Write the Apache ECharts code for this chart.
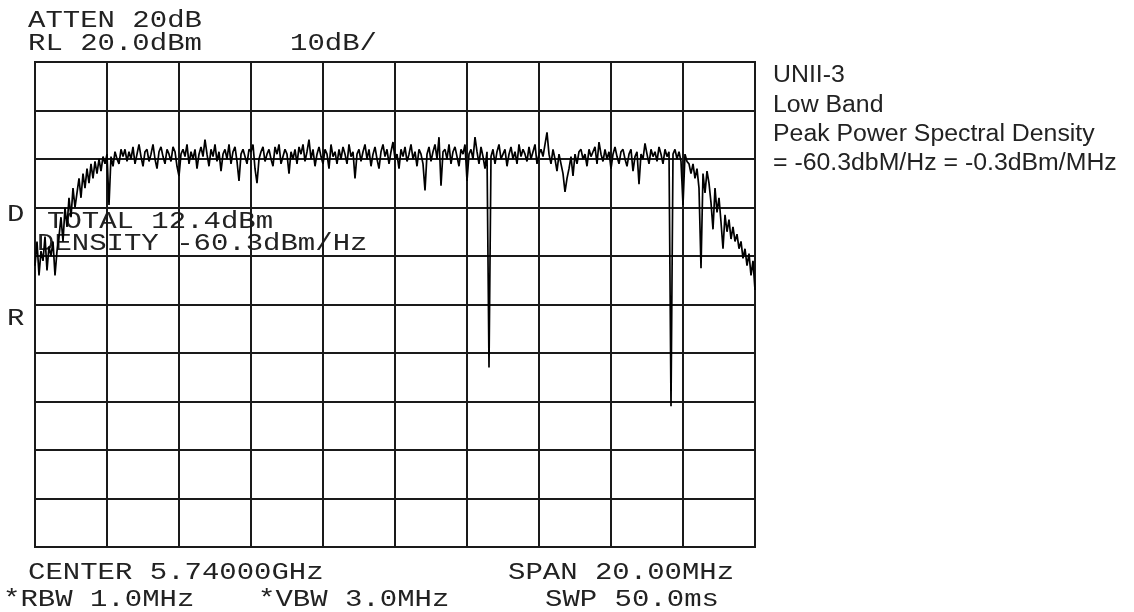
<!DOCTYPE html>
<html>
<head>
<meta charset="utf-8">
<script src="https://cdn.jsdelivr.net/npm/echarts@6/dist/echarts.min.js"></script>
<style>
  html, body { margin: 0; padding: 0; background: #fff; }
  #chart { width: 1134px; height: 612px; }
</style>
</head>
<body>
<div id="chart"></div>
<script>
// Sweep settings: 5.730–5.750 GHz, reference level +20 dBm, 10 dB/div
const sweepStartMHz = 5730;
const sweepStopMHz = 5750;
const freqDivMHz = 2;
const refLevelDbm = 20;
const bottomLevelDbm = -80;
const dbPerDiv = 10;

// Measured trace, dBm, equally spaced sweep points across the span
const traceDbm = [
  -22, -17, -24, -19, -21, -16, -23, -18, -20, -17, -24, -19, -16,
  -12, -17, -10, -14, -8, -12, -6, -10, -7, -4,
  -8, -3, -6, -2, -5, -1, -4, -0.5, -3, 0, -2.5, 0.5,
  -1, 1, -9.5, 0.5, -1.5, 1.5, 0, -1, 2, 0.5,
  2, -0.5, 1.5, 0, 2.5, -1, 1, 3, 0.5, -1.5,
  1.5, 2, -0.5, 1, 3, 0, -2, 1.5, 2.5, 0.5,
  -1, 2, 1, -0.5, 2.5, 1.5, -1.5, -3.5, 1, 2,
  0.5, 3, -1, 1.5, 0, 2, -2, 1, 2.5, 0.5,
  4, 1, -1.5, 2, 0.5, 3, -0.5, 1.5, -2.5, 1,
  2, 0, 3, -1, 1.5, 2.5, -0.5, -4.5, 1, 2,
  0.5, -1, 2, 1.5, 3, -2, -5, 0, 1.5, 2.5,
  -0.5, 1, 2, 0, -1.5, 2.5, 1, 3, -1, 0.5,
  2, 1, -3, 1.5, 0, 2, -1, 2.5, 1, 3,
  -0.5, 1.5, 4, 0, 2, -1.5, 1, 2.5, 0.5, -1,
  2, 1, -2, 3, 0.5, 1.5, -1, 2, 0, 2.5,
  1, -1, 3, 0.5, 1.5, -4, 1, 2, -0.5, 1.5,
  3, 0, 2, -1.5, 1, 2.5, 0, -2, 1.5, 3,
  0.5, 2, -1, 1.5, 3.5, 0, 1, -2, 2, 0.5,
  2.5, -0.5, 1, 3, 0, 1.5, -1.5, 2, 1, -1,
  -6.5, 1, 2.5, -0.5, 1.5, 3, 0, 4.5, -5.5, 1.5,
  2, 0, 3, -1, 1.5, 2.5, 0.5, -1.5, 2, 1,
  3, -4.5, 1, 2, 0, 4.5, 1.5, -1, 2.5, 0.5,
  -2, 1.5, -43, 0.5, 2, -1, 1.5, 3, 0, 1,
  2, -1.5, 1, 2.5, 0, 1.5, -1, 3, 0.5, 2,
  1, -0.5, 2.5, 0, 1.5, 3, -1, 1, 2, 0.5,
  3, 5.5, 1, -1, 2, 0, -2.5, 1, -1, -3,
  -6.8, -4, -2, 0.5, -3.5, 1, -1, 1.5, 2, 0,
  1, -1.5, 2, 0.5, 1.5, 2.5, -1, 3.5, 1, -0.5,
  2, 0, 1.5, -2, 1, 2.5, 0.5, -1, 1.5, 2,
  0, -1.5, 1, 2, -2.5, 0.5, 1.5, -5.2, 1, 0,
  3.2, 1, -1, 2, 0.5, 1.5, -0.5, 2.5, 1, -1,
  2, 0.5, 1.5, -51, 1, 2, 0, 1.5, -0.5, -9.5,
  1, -0.5,
  -1, -3, -1, -4, -2, -6, -22.5, -3, -7, -2.5,
  -5, -9, -14.5, -6, -11, -8, -13, -18.5, -11.5, -15,
  -12.5, -16.5, -14, -17, -15.5, -18.5, -17, -20.5, -18.5, -22,
  -19.5, -24, -21, -27
];

// Analyzer screen annotations
const headerText = ['ATTEN 20dB', 'RL 20.0dBm', '10dB/'];
const markerText = ['D', 'R'];
const measureText = ['TOTAL 12.4dBm', 'DENSITY -60.3dBm/Hz'];
const footerText = ['CENTER 5.74000GHz', 'SPAN 20.00MHz', '*RBW 1.0MHz', '*VBW 3.0MHz', 'SWP 50.0ms'];
const noteText = ['UNII-3', 'Low Band', 'Peak Power Spectral Density', '= -60.3dbM/Hz = -0.3dBm/MHz'];

const stepMHz = (sweepStopMHz - sweepStartMHz) / (traceDbm.length - 1);
const traceData = traceDbm.map((v, i) => [sweepStartMHz + i * stepMHz, v]);

const INK = '#1a1a1a';
const MONO_SIZE = 23;
const MONO_SCALE = 1.26;

// Screen-style monospaced label, widened to the analyzer's character pitch
function monoLabel(text, x, y) {
  return {
    type: 'text', x: x, y: y, scaleX: MONO_SCALE, silent: true,
    style: {
      text: text, fill: '#222',
      font: 'normal ' + MONO_SIZE + 'px "Liberation Mono"',
      textAlign: 'left', textVerticalAlign: 'middle', verticalAlign: 'middle'
    }
  };
}
// Side note next to the screen
function noteLabel(text, x, y) {
  return {
    type: 'text', x: x, y: y, scaleX: 1.08, silent: true,
    style: {
      text: text, fill: '#222',
      font: 'normal 23px "Liberation Sans"',
      textAlign: 'left', textVerticalAlign: 'middle', verticalAlign: 'middle'
    }
  };
}

const graphics = [
  monoLabel(headerText[0], 28, 21),
  monoLabel(headerText[1], 28, 44),
  monoLabel(headerText[2], 290, 44),
  monoLabel(markerText[0], 7, 215),
  monoLabel(markerText[1], 7, 319),
  monoLabel(measureText[0], 47, 222),
  monoLabel(measureText[1], 37, 244),
  monoLabel(footerText[0], 28, 573),
  monoLabel(footerText[1], 508, 573),
  monoLabel(footerText[2], 3, 600),
  monoLabel(footerText[3], 258, 600),
  monoLabel(footerText[4], 545, 600),
  noteLabel(noteText[0], 773, 76),
  noteLabel(noteText[1], 773, 106),
  noteLabel(noteText[2], 773, 135),
  noteLabel(noteText[3], 773, 164)
];

const chart = echarts.init(document.getElementById('chart'), null, { renderer: 'canvas' });
chart.setOption({
  animation: false,
  backgroundColor: '#fff',
  grid: {
    left: 35, top: 62, width: 720, height: 485,
    show: true, borderColor: INK, borderWidth: 2, backgroundColor: 'transparent'
  },
  xAxis: {
    type: 'value', min: sweepStartMHz, max: sweepStopMHz, interval: freqDivMHz,
    axisLine: { show: false }, axisTick: { show: false }, axisLabel: { show: false },
    splitLine: { show: true, lineStyle: { color: INK, width: 2 } }
  },
  yAxis: {
    type: 'value', min: bottomLevelDbm, max: refLevelDbm, interval: dbPerDiv,
    axisLine: { show: false }, axisTick: { show: false }, axisLabel: { show: false },
    splitLine: { show: true, lineStyle: { color: INK, width: 2 } }
  },
  series: [{
    type: 'line', data: traceData, showSymbol: false, symbol: 'none',
    lineStyle: { color: '#000', width: 1.7 }, z: 5
  }],
  graphic: graphics
});
</script>
</body>
</html>
